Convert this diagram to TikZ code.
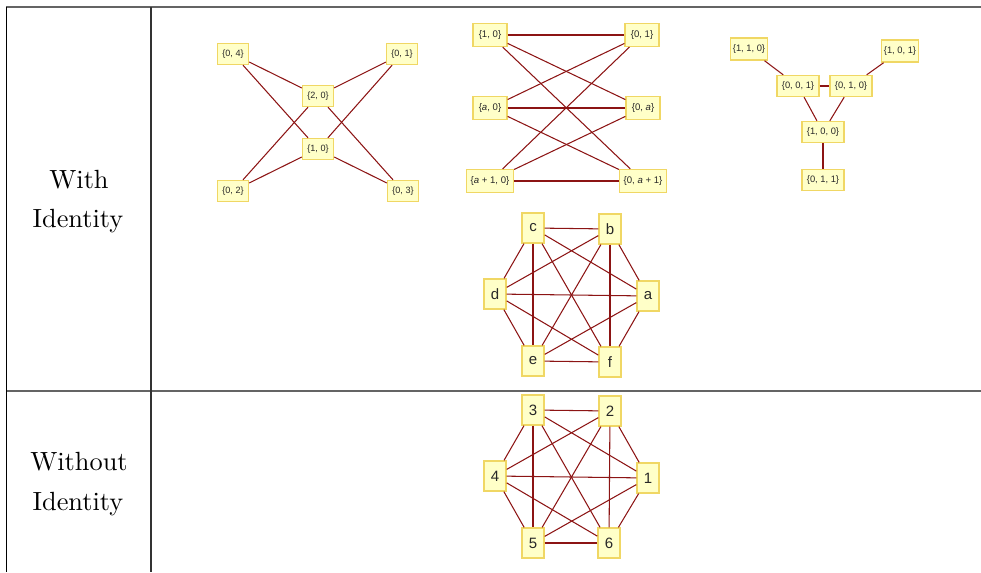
\documentclass[tikz,border=0pt]{standalone}
\usepackage{fontspec}
\newfontfamily\nodefont{Liberation Sans}
\definecolor{edgecol}{RGB}{140,20,20}
\definecolor{boxfill}{RGB}{255,255,200}
\definecolor{boxline}{RGB}{240,215,100}
\definecolor{rulegray}{RGB}{100,100,100}
\definecolor{nodetext}{RGB}{40,40,40}
\begin{document}
\begin{tikzpicture}[x=0.38pt,y=-0.38pt,
  edge/.style={draw=edgecol,line width=0.4pt},
  vbox/.style={draw=boxline,fill=boxfill,line width=0.5pt,inner sep=0pt,text=nodetext},
  sm/.style={vbox,font=\nodefont\fontsize{3.45}{4}\selectfont},
  ga/.style={sm,minimum width=11.8pt,minimum height=8pt},
  gb/.style={sm,font=\nodefont\fontsize{3.65}{4}\selectfont,minimum width=12.9pt,minimum height=8.7pt},
  gbw/.style={gb,minimum width=17.9pt},
  gco/.style={sm,font=\nodefont\fontsize{3.55}{4}\selectfont,minimum width=14.1pt,minimum height=8.4pt},
  gci/.style={sm,font=\nodefont\fontsize{3.55}{4}\selectfont,minimum width=16pt,minimum height=8pt},
  gd/.style={vbox,font=\nodefont\fontsize{5.7}{6}\selectfont,minimum width=8.4pt,minimum height=11.4pt},
  lab/.style={anchor=base,inner sep=0pt,font=\fontsize{10}{12}\selectfont},
  rule/.style={line width=0.55pt}
]
\useasboundingbox (0,0) rectangle (981,572);
% table rules
\draw[rule,rulegray] (6,7) -- (981,7);
\draw[rule,rulegray] (6,391) -- (981,391);
\draw[rule,black] (6.5,7) -- (6.5,572);
\draw[rule,black!80] (151,7) -- (151,572);
% row labels
\node[lab] (w1) at (79,188) {With};
\node[lab] (i1) at (78,227) {Identity};
\node[lab] (w2) at (79,470) {Without};
\node[lab] (i2) at (78,510) {Identity};

% graph A
\node[ga] (a04) at (233,54) {\{0, 4\}};
\node[ga] (a01) at (402,54) {\{0, 1\}};
\node[ga] (a20) at (318,96) {\{2, 0\}};
\node[ga] (a10) at (318,149) {\{1, 0\}};
\node[ga] (a02) at (233,191) {\{0, 2\}};
\node[ga] (a03) at (403,191) {\{0, 3\}};
\foreach \u in {a04,a01,a02,a03}
  \foreach \v in {a20,a10}
    \draw[edge] (\u) -- (\v);

% graph B
\node[gb] (b10) at (490,35) {\{1, 0\}};
\node[gb] (b01) at (642,35) {\{0, 1\}};
\node[gb] (ba0) at (490,108) {\{\textit{a}, 0\}};
\node[gb] (b0a) at (643,108) {\{0, \textit{a}\}};
\node[gbw] (bb0) at (490,181) {\{\textit{a} + 1, 0\}};
\node[gbw] (b0b) at (643,181) {\{0, \textit{a} + 1\}};
\foreach \u in {b10,ba0,bb0}
  \foreach \v in {b01,b0a,b0b}
    \draw[edge] (\u) -- (\v);

% graph C
\node[gco] (c110) at (749,49) {\{1, 1, 0\}};
\node[gco] (c101) at (900,51) {\{1, 0, 1\}};
\node[gci] (c001) at (798,86) {\{0, 0, 1\}};
\node[gci] (c010) at (851,86) {\{0, 1, 0\}};
\node[gci] (c100) at (823,132) {\{1, 0, 0\}};
\node[gci] (c011) at (823,180) {\{0, 1, 1\}};
\draw[edge] (c110) -- (c001);
\draw[edge] (c101) -- (c010);
\draw[edge] (c001) -- (c010);
\draw[edge] (c001) -- (c100);
\draw[edge] (c010) -- (c100);
\draw[edge] (c100) -- (c011);

% graph D
\node[gd] (dc) at (533,228) {c};
\node[gd] (db) at (610,229) {b};
\node[gd] (dd) at (495,294) {d};
\node[gd] (da) at (648,296) {a};
\node[gd] (de) at (533,361) {e};
\node[gd] (df) at (610,362) {f};
\foreach \u/\v in {dc/db,dc/dd,dc/de,dc/df,dc/da,db/dd,db/de,db/df,db/da,dd/da,dd/de,dd/df,da/de,da/df,de/df}
  \draw[edge] (\u) -- (\v);

% graph E
\node[gd] (e3) at (533,410) {3};
\node[gd] (e2) at (610,411) {2};
\node[gd] (e4) at (495,476) {4};
\node[gd] (e1) at (648,478) {1};
\node[gd] (e5) at (533,543) {5};
\node[gd] (e6) at (609,543) {6};
\foreach \u/\v in {e3/e2,e3/e4,e3/e5,e3/e6,e3/e1,e2/e4,e2/e5,e2/e6,e2/e1,e4/e1,e4/e5,e4/e6,e1/e5,e1/e6,e5/e6}
  \draw[edge] (\u) -- (\v);
\end{tikzpicture}
\end{document}
